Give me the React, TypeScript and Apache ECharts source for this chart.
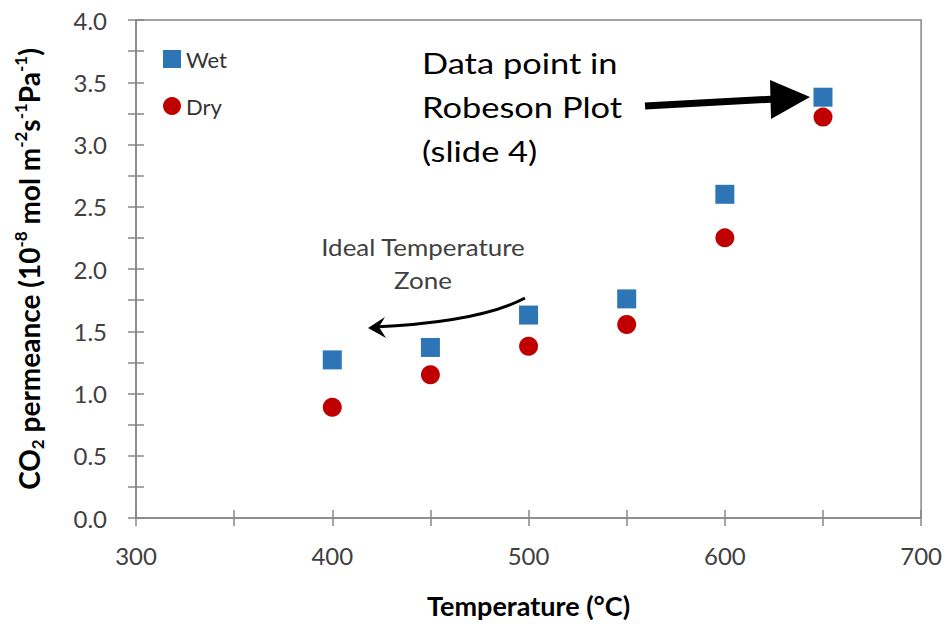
import React, { useEffect, useRef } from "react";
import * as echarts from "echarts";

const temperatures = [400, 450, 500, 550, 600, 650];
const wetValues = [1.27, 1.37, 1.63, 1.76, 2.6, 3.38];
const dryValues = [0.89, 1.15, 1.38, 1.555, 2.25, 3.22];
const seriesNames = ["Wet", "Dry"];
const xTitle = "Temperature (°C)";
const yTitle =
  "{b|CO}{sub|2}{b| permeance (10}{sup|-8}{b| mol m}{sup|-2}{b|s}{sup|-1}{b|Pa}{sup|-1}{b|)}";
const robesonLines = ["Data point in", "Robeson Plot", "(slide 4)"];
const idealLines = ["Ideal Temperature", "Zone"];

const FONT = "Lato";
const AXIS_COLOR = "#878787";

export default function App() {
  const ref = useRef<HTMLDivElement>(null);
  useEffect(() => {
    if (!ref.current) return;
    const chart = echarts.init(ref.current, undefined, { renderer: "svg" });
    const axisLabelX = {
      fontFamily: FONT,
      fontSize: 24,
      color: "#404040",
      margin: 25,
      formatter: (v: number) => (v % 100 === 0 ? String(v) : ""),
    };
    const axisLabelY = {
      fontFamily: FONT,
      fontSize: 24,
      color: "#404040",
      margin: 29,
      formatter: (v: number) =>
        Math.abs(v * 2 - Math.round(v * 2)) < 1e-6 ? v.toFixed(1) : "",
    };
    const option: any = {
      animation: false,
      backgroundColor: "#ffffff",
      grid: {
        left: 136,
        top: 20,
        width: 789,
        height: 499,
        show: true,
        borderColor: AXIS_COLOR,
        borderWidth: 1.5,
        backgroundColor: "transparent",
      },
      legend: {
        orient: "vertical",
        left: 163,
        top: 48,
        padding: 0,
        itemWidth: 18,
        itemHeight: 18,
        itemGap: 25,
        textStyle: { fontFamily: FONT, fontSize: 22, color: "#333" },
        data: seriesNames,
      },
      xAxis: [
        {
          type: "value",
          min: 300,
          max: 700,
          interval: 50,
          position: "bottom",
          name: xTitle,
          nameLocation: "middle",
          nameGap: 74,
          nameTextStyle: {
            fontFamily: FONT,
            fontSize: 27,
            fontWeight: "bold",
            color: "#000",
          },
          axisLine: { show: true, lineStyle: { color: AXIS_COLOR, width: 1.5 } },
          axisTick: { show: true, length: 8, lineStyle: { color: AXIS_COLOR, width: 1.5 } },
          axisLabel: axisLabelX,
          splitLine: { show: false },
        },
        {
          type: "value",
          min: 300,
          max: 700,
          interval: 50,
          position: "bottom",
          axisLine: { show: false },
          axisTick: { show: true, inside: true, length: 8, lineStyle: { color: AXIS_COLOR, width: 1.5 } },
          axisLabel: { show: false },
          splitLine: { show: false },
        },
      ],
      yAxis: [
        {
          type: "value",
          min: 0,
          max: 4,
          interval: 0.25,
          position: "left",
          name: yTitle,
          nameLocation: "middle",
          nameGap: 90,
          nameTextStyle: {
            fontFamily: FONT,
            fontSize: 28,
            fontWeight: "bold",
            color: "#000",
            rich: {
              b: { fontFamily: FONT, fontSize: 28, fontWeight: "bold", color: "#000", lineHeight: 34 },
              sup: { fontFamily: FONT, fontSize: 17, fontWeight: "bold", color: "#000", verticalAlign: "top" },
              sub: { fontFamily: FONT, fontSize: 17, fontWeight: "bold", color: "#000", verticalAlign: "bottom" },
            },
          },
          axisLine: { show: true, lineStyle: { color: AXIS_COLOR, width: 1.5 } },
          axisTick: { show: true, length: 8, lineStyle: { color: AXIS_COLOR, width: 1.5 } },
          axisLabel: axisLabelY,
          splitLine: { show: false },
        },
        {
          type: "value",
          min: 0,
          max: 4,
          interval: 0.25,
          position: "left",
          axisLine: { show: false },
          axisTick: { show: true, inside: true, length: 8, lineStyle: { color: AXIS_COLOR, width: 1.5 } },
          axisLabel: { show: false },
          splitLine: { show: false },
        },
      ],
      series: [
        {
          name: seriesNames[0],
          type: "scatter",
          symbol: "rect",
          symbolSize: 19,
          itemStyle: { color: "#2E75B6", opacity: 1 },
          data: temperatures.map((t, i) => [t, wetValues[i]]),
        },
        {
          name: seriesNames[1],
          type: "scatter",
          symbol: "circle",
          symbolSize: 19,
          itemStyle: { color: "#C00000", opacity: 1 },
          data: temperatures.map((t, i) => [t, dryValues[i]]),
        },
      ],
      graphic: [
        ...robesonLines.map((line, i) => ({
          type: "text",
          x: 422,
          y: 63 + i * 44,
          scaleX: 1.23,
          style: {
            text: line,
            fontFamily: FONT,
            fontSize: 28,
            fill: "#000",
            verticalAlign: "middle",
          },
        })),
        {
          type: "line",
          shape: { x1: 645, y1: 106, x2: 775, y2: 99 },
          style: { stroke: "#000", lineWidth: 7 },
        },
        {
          type: "polygon",
          shape: { points: [[770, 80], [810, 97], [771, 119]] },
          style: { fill: "#000" },
        },
        ...idealLines.map((line, i) => ({
          type: "text",
          x: 423,
          y: 246 + i * 33,
          scaleX: 1.08,
          style: {
            text: line,
            fontFamily: FONT,
            fontSize: 24,
            fill: "#404040",
            align: "center",
            verticalAlign: "middle",
          },
        })),
        {
          type: "bezierCurve",
          shape: { x1: 525, y1: 298, x2: 374, y2: 327, cpx1: 480, cpy1: 322 },
          style: { stroke: "#000", lineWidth: 3, fill: null },
        },
        {
          type: "polygon",
          shape: { points: [[368, 328], [385, 317], [379, 327], [386, 338]] },
          style: { fill: "#000" },
        },
      ],
    };
    chart.setOption(option);
    return () => chart.dispose();
  }, []);
  return (
    <div
      ref={ref}
      style={{ position: "fixed", left: 0, top: 0, width: 945, height: 624, background: "#fff" }}
    />
  );
}
